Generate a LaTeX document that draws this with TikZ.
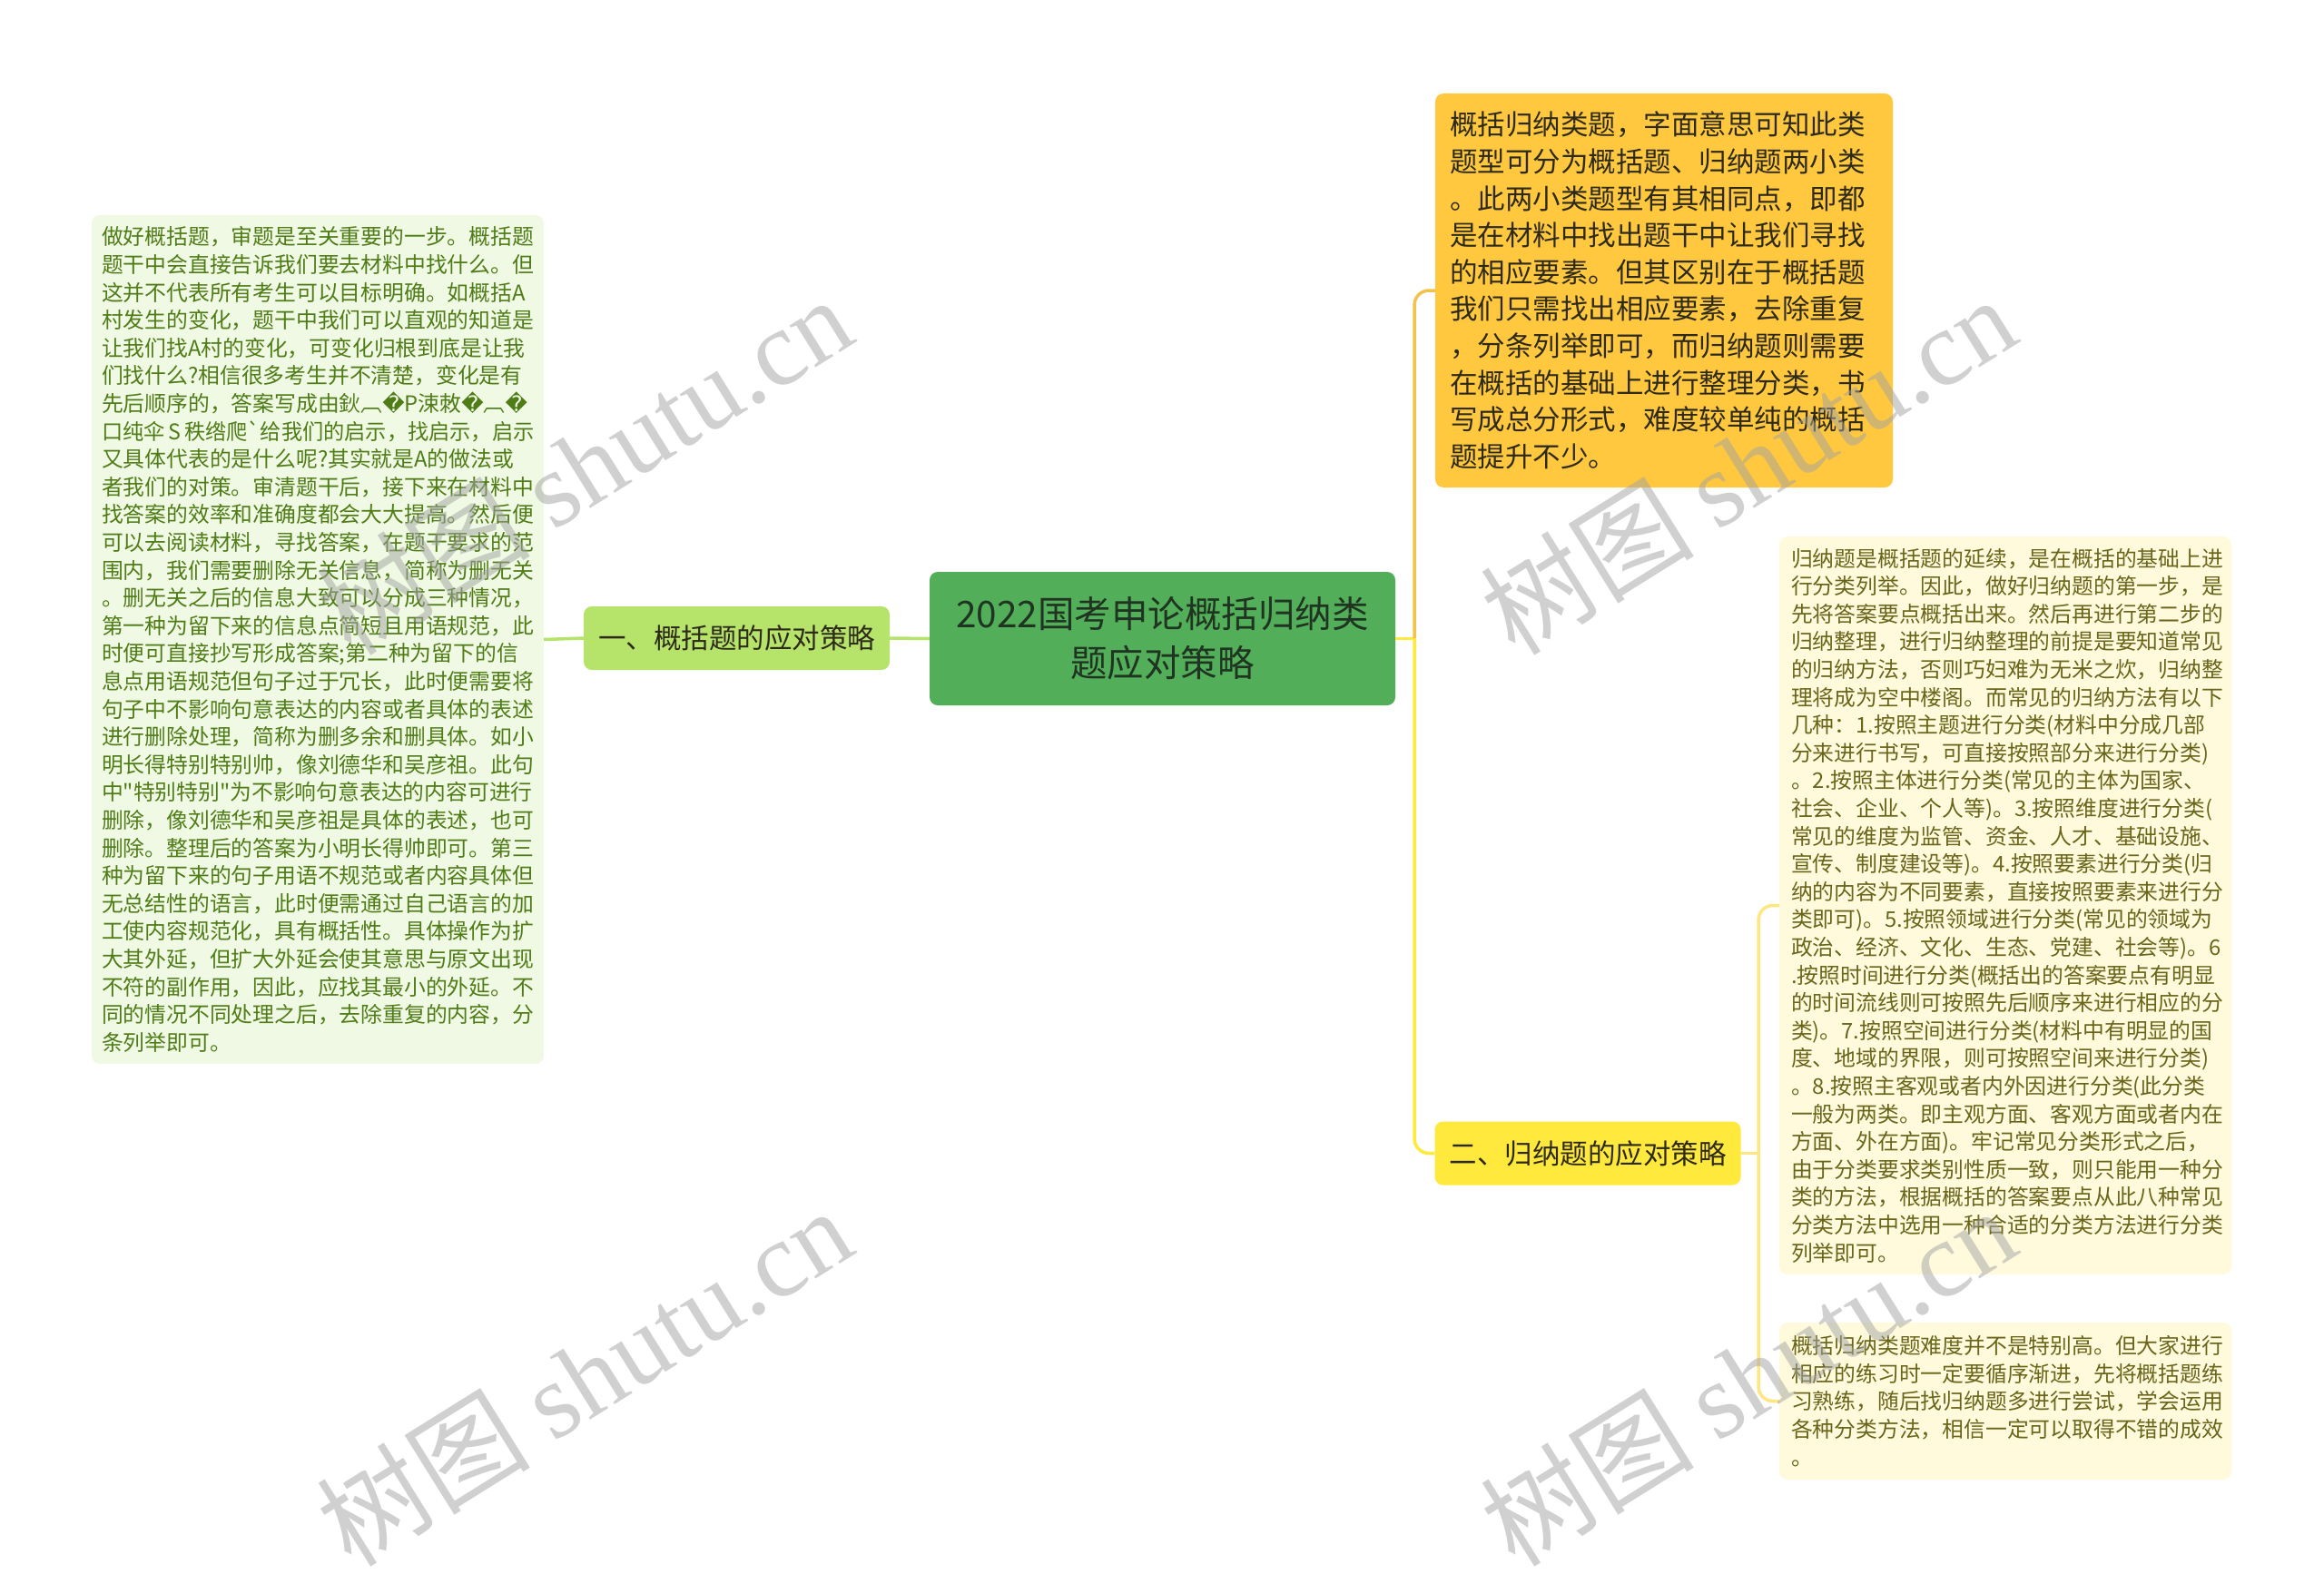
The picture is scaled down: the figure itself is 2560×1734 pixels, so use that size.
\documentclass[tikz,border=0pt]{standalone}
\usepackage{fontspec}
\setmainfont{Noto Sans CJK SC}
\newfontfamily\cjkplain{Noto Sans CJK SC}
\newfontfamily\dejavu{DejaVu Sans}
\newfontfamily\wmserif{Liberation Serif}
\newcommand\rpl{{\dejavu\symbol{"FFFD}}}
\newcommand\dq{{\cjkplain"}}
\newcommand\gv{{\cjkplain`}}
\definecolor{cgreen}{HTML}{53AE5A}
\definecolor{ctitle}{HTML}{1F3521}
\definecolor{lgreen}{HTML}{B6E46B}
\definecolor{lboxfill}{HTML}{EFF9E3}
\definecolor{lboxtext}{HTML}{507C18}
\definecolor{corange}{HTML}{FFC83E}
\definecolor{corangeline}{HTML}{F3C24C}
\definecolor{cyellow}{HTML}{FFE93D}
\definecolor{csubline}{HTML}{FFE680}
\definecolor{rboxfill}{HTML}{FFFADC}
\definecolor{rboxtext}{HTML}{6A651A}
\definecolor{darktext}{HTML}{2E2A1A}
\begin{document}
\begin{tikzpicture}[x=1pt,y=-1pt,
  basebox/.style={rounded corners=9pt, inner ysep=0pt, align=left},
  smalltext/.style={font=\fontsize{23.8}{30.6}\selectfont},
  leftbox/.style={basebox, smalltext, fill=lboxfill, text=lboxtext, text width=476pt, inner xsep=11pt},
  rightbox/.style={basebox, smalltext, fill=rboxfill, text=rboxtext, text width=472pt, inner xsep=13pt},
  orangebox/.style={basebox, fill=corange, text=darktext, text width=472pt, inner xsep=16pt,
     font=\fontsize{30.5}{40.6}\selectfont},
  branchbox/.style={rounded corners=9pt, minimum width=337pt, minimum height=70pt, inner sep=0pt,
     text=darktext, font=\fontsize{30.5}{36}\selectfont},
  conn/.style={line width=3.5pt, rounded corners=16pt},
  wm/.style={rotate=32, text=black!36, text opacity=0.5, inner sep=0pt}
]
\fill[white] (0,0) rectangle (2560,1734);
\useasboundingbox (0,0) rectangle (2560,1734);

% central topic
\node[rounded corners=9pt, fill=cgreen, text=ctitle, align=center, text width=493pt,
  inner xsep=10pt, inner ysep=0pt, minimum height=147pt,
  font=\fontsize{40.5}{54}\selectfont] (c) at (1280.5,703.5)
  {2022国考申论概括归纳类\\题应对策略};

% left branch
\node[branchbox, fill=lgreen] (lb) at (811.5,703) {一、概括题的应对策略};

\node[leftbox, minimum height=935pt] (lt) at (350,704.5) {%
做好概括题，审题是至关重要的一步。概括题\\
题干中会直接告诉我们要去材料中找什么。但\\
这并不代表所有考生可以目标明确。如概括A\\
村发生的变化，题干中我们可以直观的知道是\\
让我们找A村的变化，可变化归根到底是让我\\
们找什么?相信很多考生并不清楚，变化是有\\
先后顺序的，答案写成由鈥︹\rpl P涑敇\rpl︹\rpl\\
\scalebox{0.975}[1]{口纯伞\,S\,秩绺爬\gv 给我们的启示，找启示，启示}\\
又具体代表的是什么呢?其实就是A的做法或\\
者我们的对策。审清题干后，接下来在材料中\\
找答案的效率和准确度都会大大提高。然后便\\
可以去阅读材料，寻找答案，在题干要求的范\\
围内，我们需要删除无关信息，简称为删无关\\
。删无关之后的信息大致可以分成三种情况，\\
第一种为留下来的信息点简短且用语规范，此\\
时便可直接抄写形成答案;第二种为留下的信\\
息点用语规范但句子过于冗长，此时便需要将\\
句子中不影响句意表达的内容或者具体的表述\\
进行删除处理，简称为删多余和删具体。如小\\
明长得特别特别帅，像刘德华和吴彦祖。此句\\
中\dq 特别特别\dq 为不影响句意表达的内容可进行\\
删除，像刘德华和吴彦祖是具体的表述，也可\\
删除。整理后的答案为小明长得帅即可。第三\\
种为留下来的句子用语不规范或者内容具体但\\
无总结性的语言，此时便需通过自己语言的加\\
工使内容规范化，具有概括性。具体操作为扩\\
大其外延，但扩大外延会使其意思与原文出现\\
不符的副作用，因此，应找其最小的外延。不\\
同的情况不同处理之后，去除重复的内容，分\\
条列举即可。};

% right top orange box
\node[orangebox, minimum height=434pt] (ob) at (1833,320) {%
概括归纳类题，字面意思可知此类\\
题型可分为概括题、归纳题两小类\\
。此两小类题型有其相同点，即都\\
是在材料中找出题干中让我们寻找\\
的相应要素。但其区别在于概括题\\
我们只需找出相应要素，去除重复\\
，分条列举即可，而归纳题则需要\\
在概括的基础上进行整理分类，书\\
写成总分形式，难度较单纯的概括\\
题提升不少。};

% right branch
\node[branchbox, fill=cyellow] (rb) at (1749,1270.5) {二、归纳题的应对策略};

\node[rightbox, minimum height=813pt] (r1) at (2209,997.5) {%
归纳题是概括题的延续，是在概括的基础上进\\
行分类列举。因此，做好归纳题的第一步，是\\
先将答案要点概括出来。然后再进行第二步的\\
归纳整理，进行归纳整理的前提是要知道常见\\
的归纳方法，否则巧妇难为无米之炊，归纳整\\
理将成为空中楼阁。而常见的归纳方法有以下\\
几种：1.按照主题进行分类(材料中分成几部\\
分来进行书写，可直接按照部分来进行分类)\\
。2.按照主体进行分类(常见的主体为国家、\\
社会、企业、个人等)。3.按照维度进行分类(\\
常见的维度为监管、资金、人才、基础设施、\\
宣传、制度建设等)。4.按照要素进行分类(归\\
纳的内容为不同要素，直接按照要素来进行分\\
类即可)。5.按照领域进行分类(常见的领域为\\
政治、经济、文化、生态、党建、社会等)。6\\
.按照时间进行分类(概括出的答案要点有明显\\
的时间流线则可按照先后顺序来进行相应的分\\
类)。7.按照空间进行分类(材料中有明显的国\\
度、地域的界限，则可按照空间来进行分类)\\
。8.按照主客观或者内外因进行分类(此分类\\
一般为两类。即主观方面、客观方面或者内在\\
方面、外在方面)。牢记常见分类形式之后，\\
由于分类要求类别性质一致，则只能用一种分\\
类的方法，根据概括的答案要点从此八种常见\\
分类方法中选用一种合适的分类方法进行分类\\
列举即可。};

\node[rightbox, minimum height=173pt] (r2) at (2209,1543.5) {%
概括归纳类题难度并不是特别高。但大家进行\\
相应的练习时一定要循序渐进，先将概括题练\\
习熟练，随后找归纳题多进行尝试，学会运用\\
各种分类方法，相信一定可以取得不错的成效\\
。};

% connectors
\coordinate (jr) at (1558,703.5);
\coordinate (jb) at (1937,1270.5);
\draw[conn, lgreen] (c.west) -- (lb.east);
\draw[conn, lgreen] (lb.west) -- (lt.east);
\draw[conn, cyellow] (c.east) -- (jr);
\draw[conn, corangeline] (jr) |- (ob.west);
\draw[conn, cyellow] (jr) |- (rb.west);
\draw[conn, csubline] (rb.east) -- (jb);
\draw[conn, csubline] (jb) |- (r1.west);
\draw[conn, csubline] (jb) |- (r2.west);

% watermarks
\node[wm] (wm1) at (643,512) {\fontsize{118}{118}\selectfont 树图 {\wmserif shutu.cn}};
\node[wm] (wm2) at (643,1516) {\fontsize{118}{118}\selectfont 树图 {\wmserif shutu.cn}};
\node[wm] (wm3) at (1925,512) {\fontsize{118}{118}\selectfont 树图 {\wmserif shutu.cn}};
\node[wm] (wm4) at (1925,1516) {\fontsize{118}{118}\selectfont 树图 {\wmserif shutu.cn}};
\end{tikzpicture}
\end{document}
